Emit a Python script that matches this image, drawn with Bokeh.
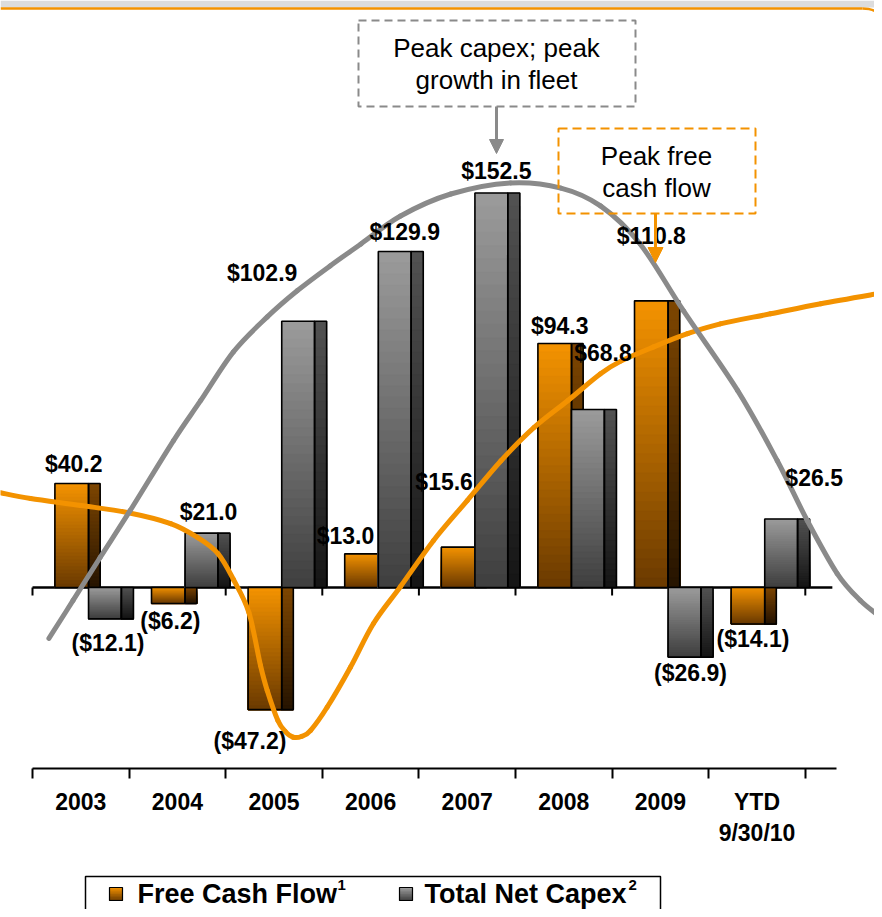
import numpy as np
from bokeh.plotting import figure
from bokeh.models import (Range1d, LinearAxis, FixedTicker, ColumnDataSource,
                          Arrow, NormalHead)
from bokeh.core.properties import value
from bokeh.embed import file_html
from bokeh.resources import INLINE

# ---------------- data ----------------
categories = ["2003", "2004", "2005", "2006", "2007", "2008", "2009", "YTD\n9/30/10"]
free_cash_flow = [40.2, -6.2, -47.2, 13.0, 15.6, 94.3, 110.8, -14.1]
total_net_capex = [-12.1, 21.0, 102.9, 129.9, 152.5, 68.8, -26.9, 26.5]

# illustrative trend curves
# (x in category units from the left edge of 2003, y in $M)
capex_curve_x = [0.17, 0.42, 0.70, 1.01, 1.46, 1.74, 2.08, 2.43, 2.74, 3.08, 3.40, 3.81,
                 4.33, 4.95, 5.47, 5.88, 6.29, 6.74, 7.30, 7.71, 8.02, 8.33, 8.57, 8.80]
capex_curve_y = [-19.7, -5.0, 11.6, 29.7, 56.8, 72.2, 91.1, 104.6, 114.7, 124.3, 132.8, 143.6,
                 152.1, 156.4, 154.4, 147.5, 132.8, 106.9, 76.1, 49.0, 25.9, 5.4, -5.0, -12.0]
fcf_curve_x = [-0.33, -0.02, 0.50, 0.98, 1.43, 1.71, 1.92, 2.08, 2.24, 2.36, 2.43, 2.54, 2.62,
               2.70, 2.79, 2.88, 3.05, 3.29, 3.53, 3.81, 4.15, 4.50, 4.85, 5.19, 5.54, 5.88,
               6.09, 6.43, 6.78, 7.12, 7.64, 8.16, 8.80]
fcf_curve_y = [36.6, 34.4, 31.7, 29.0, 24.7, 19.3, 13.1, 3.1, -9.7, -30.1, -39.8, -51.4, -55.8,
               -57.9, -57.5, -55.2, -46.3, -30.9, -13.9, 0.4, 18.1, 33.6, 49.0, 61.8, 72.2, 82.6,
               87.5, 93.0, 98.1, 101.9, 105.8, 109.7, 113.9]

series_names = ["Free Cash Flow", "Total Net Capex"]
series_notes = ["1", "2"]
annotation_capex = ["Peak capex; peak", "growth in fleet"]
annotation_fcf = ["Peak free", "cash flow"]

# ------------- layout helpers (reference pixel -> data) --------------
X0, CW, Y0, PPU = 32.0, 96.6, 587.0, 2.587
W, H = 874, 909


def ux(px):
    return (px - X0) / CW


def uy(py):
    return (Y0 - py) / PPU


def upx(d):
    return d / PPU


ORANGE = "#F39200"
GRAY_LINE = "#8A8A8A"
FONT = "Liberation Sans"

# label pixel offsets (dx, dy) from the end of each bar
fcf_label_off = [(2, -20), (2, 17), (-15, 31), (-16, -18), (-14, -65), (5, -18), (0, -65), (5, 15)]
capex_label_off = [(3, 24), (7, -21), (-36, -48), (10, -19), (5, -22), (15, -57), (6, 16), (33, -41)]

p = figure(width=W, height=H, x_range=Range1d(ux(0), ux(W)),
           y_range=Range1d(uy(H), uy(0)), x_axis_type=None, y_axis_type=None,
           output_backend="svg", toolbar_location=None, title=None,
           min_border=0, min_border_left=0, min_border_right=0,
           min_border_top=0, min_border_bottom=0)
p.outline_line_color = None
p.background_fill_color = "white"
p.border_fill_color = "white"


def hex2rgb(h):
    return tuple(int(h[i:i + 2], 16) for i in (1, 3, 5))


def mix(c1, c2, t):
    a, b = hex2rgb(c1), hex2rgb(c2)
    return "#%02x%02x%02x" % tuple(round(a[j] + (b[j] - a[j]) * t) for j in range(3))


NB = 30


def gradient_bars(values, x_from, x_to, top_color, bottom_color):
    L, R, T, B, C = [], [], [], [], []
    for i, v in enumerate(values):
        hi, lo = max(v, 0.0), min(v, 0.0)
        for k in range(NB):
            L.append(i + x_from)
            R.append(i + x_to)
            T.append(hi - (hi - lo) * k / NB)
            B.append(lo)
            C.append(mix(top_color, bottom_color, (k + 0.5) / NB))
    return ColumnDataSource(dict(left=L, right=R, top=T, bottom=B, color=C))


def outline_src(values, x_from, x_to):
    n = len(values)
    return ColumnDataSource(dict(left=[i + x_from for i in range(n)],
                                 right=[i + x_to for i in range(n)],
                                 top=[max(v, 0.0) for v in values],
                                 bottom=[min(v, 0.0) for v in values]))


def smooth_segments(xs, ys):
    """Cubic Bezier pieces through the read points (Catmull-Rom tangents)."""
    P = list(zip(xs, ys))
    d = dict(x0=[], y0=[], x1=[], y1=[], cx0=[], cy0=[], cx1=[], cy1=[])
    for i in range(len(P) - 1):
        p0 = P[max(i - 1, 0)]
        p1 = P[i]
        p2 = P[i + 1]
        p3 = P[min(i + 2, len(P) - 1)]
        d["x0"].append(p1[0]); d["y0"].append(p1[1])
        d["x1"].append(p2[0]); d["y1"].append(p2[1])
        d["cx0"].append(p1[0] + (p2[0] - p0[0]) / 6.0)
        d["cy0"].append(p1[1] + (p2[1] - p0[1]) / 6.0)
        d["cx1"].append(p2[0] - (p3[0] - p1[0]) / 6.0)
        d["cy1"].append(p2[1] - (p3[1] - p1[1]) / 6.0)
    return ColumnDataSource(d)


n = len(categories)

# slide header: grey band + orange rule with rounded corner
p.quad(left=[ux(0)], right=[ux(W)], top=[uy(0)], bottom=[uy(7)], fill_color="#DCDCDC",
       line_color=None)
p.segment(x0=[ux(0)], y0=[uy(8)], x1=[ux(862)], y1=[uy(8)], line_color=ORANGE, line_width=2.5)
p.quadratic(x0=[ux(862)], y0=[uy(8)], x1=[ux(882)], y1=[uy(22)], cx=[ux(880)], cy=[uy(8)],
            line_color=ORANGE, line_width=2.5)

# zero line with boundary ticks
p.segment(x0=[0], y0=[0], x1=[n + 0.28], y1=[0], line_color="black", line_width=2.5)
p.segment(x0=list(range(n + 1)), y0=[0] * (n + 1), x1=list(range(n + 1)),
          y1=[-upx(8)] * (n + 1), line_color="black", line_width=2)

OF = (0.232, 0.58)
OS = (0.58, 0.70)
GF = (0.58, 0.92)
GS = (0.92, 1.045)

p.quad(left="left", right="right", top="top", bottom="bottom", fill_color="color",
       line_color="color", line_width=0.5,
       source=gradient_bars(free_cash_flow, OF[0], OF[1], "#F59300", "#6A3A00"))
p.quad(left="left", right="right", top="top", bottom="bottom", fill_color="color",
       line_color="color", line_width=0.5,
       source=gradient_bars(free_cash_flow, OS[0], OS[1], "#7E4600", "#261400"))
for a, b in (OF, OS):
    p.quad(left="left", right="right", top="top", bottom="bottom", fill_color=None,
           line_color="black", line_width=1.6, source=outline_src(free_cash_flow, a, b))

p.quad(left="left", right="right", top="top", bottom="bottom", fill_color="color",
       line_color="color", line_width=0.5,
       source=gradient_bars(total_net_capex, GF[0], GF[1], "#9C9C9C", "#3E3E3E"))
p.quad(left="left", right="right", top="top", bottom="bottom", fill_color="color",
       line_color="color", line_width=0.5,
       source=gradient_bars(total_net_capex, GS[0], GS[1], "#525252", "#151515"))
for a, b in (GF, GS):
    p.quad(left="left", right="right", top="top", bottom="bottom", fill_color=None,
           line_color="black", line_width=1.6, source=outline_src(total_net_capex, a, b))

# trend curves
p.bezier(x0="x0", y0="y0", x1="x1", y1="y1", cx0="cx0", cy0="cy0", cx1="cx1", cy1="cy1",
         source=smooth_segments(fcf_curve_x, fcf_curve_y), line_color=ORANGE, line_width=5,
         line_cap="round")
p.bezier(x0="x0", y0="y0", x1="x1", y1="y1", cx0="cx0", cy0="cy0", cx1="cx1", cy1="cy1",
         source=smooth_segments(capex_curve_x, capex_curve_y), line_color=GRAY_LINE,
         line_width=5, line_cap="round")


# value labels
def fmt(v):
    return "${:.1f}".format(v) if v >= 0 else "(${:.1f})".format(-v)


lx, ly, lt, lox, loy = [], [], [], [], []
for vals, front, offs in ((free_cash_flow, OF, fcf_label_off),
                          (total_net_capex, GF, capex_label_off)):
    for i, v in enumerate(vals):
        lx.append(i + (front[0] + front[1]) / 2)
        ly.append(v)
        lt.append(fmt(v))
        lox.append(offs[i][0])
        loy.append(offs[i][1])
p.text(x="x", y="y", text="text", x_offset="dx", y_offset="dy",
       source=ColumnDataSource(dict(x=lx, y=ly, text=lt, dx=lox, dy=loy)),
       text_font=value(FONT), text_font_style="bold", text_font_size="23px",
       text_align="center", text_baseline="middle", text_color="black")

# annotation boxes
p.quad(left=[ux(358)], right=[ux(635)], top=[uy(20)], bottom=[uy(106)], fill_color=None,
       line_color=GRAY_LINE, line_width=2, line_dash="8 5")
p.text(x=[ux(496)] * 2, y=[uy(47), uy(79)], text=annotation_capex, text_font=value(FONT),
       text_font_size="26px", text_align="center", text_baseline="middle", text_color="black")
p.add_layout(Arrow(end=NormalHead(size=14, fill_color=GRAY_LINE, line_color=GRAY_LINE),
                   x_start=ux(496), y_start=uy(106), x_end=ux(496), y_end=uy(153),
                   line_color=GRAY_LINE, line_width=3))

p.quad(left=[ux(558)], right=[ux(755)], top=[uy(128)], bottom=[uy(213)], fill_color=None,
       line_color=ORANGE, line_width=2, line_dash="9 5")
p.text(x=[ux(656)] * 2, y=[uy(155), uy(187)], text=annotation_fcf, text_font=value(FONT),
       text_font_size="26px", text_align="center", text_baseline="middle", text_color="black")
p.add_layout(Arrow(end=NormalHead(size=15, fill_color=ORANGE, line_color=ORANGE),
                   x_start=ux(655), y_start=uy(213), x_end=ux(655), y_end=uy(262),
                   line_color=ORANGE, line_width=3))

# category axis
xaxis = LinearAxis(fixed_location=uy(768),
                   ticker=FixedTicker(ticks=[i + 0.5 for i in range(n)],
                                      minor_ticks=list(range(n + 1))),
                   major_label_overrides={i + 0.5: c for i, c in enumerate(categories)},
                   bounds=(0, n + 0.32))
xaxis.axis_line_color = "black"
xaxis.axis_line_width = 2
xaxis.major_tick_line_color = None
xaxis.minor_tick_line_color = "black"
xaxis.minor_tick_line_width = 2
xaxis.minor_tick_in = 0
xaxis.minor_tick_out = 10
xaxis.major_label_standoff = 10
xaxis.major_label_text_font = FONT
xaxis.major_label_text_font_style = "bold"
xaxis.major_label_text_font_size = "23px"
xaxis.major_label_text_color = "black"
p.add_layout(xaxis, "below")

# legend (box, swatches, labels with footnote marks)
p.quad(left=[ux(85)], right=[ux(660)], top=[uy(876)], bottom=[uy(935)], fill_color="white",
       line_color="black", line_width=1.5)
sw_x = [109, 399]
sw_cols = [("#F59300", "#6A3A00"), ("#A0A0A0", "#3E3E3E")]
NS = 8
for sx, (c_top, c_bot) in zip(sw_x, sw_cols):
    p.quad(left=[ux(sx)] * NS, right=[ux(sx + 13)] * NS,
           top=[uy(887 + 13 * k / NS) for k in range(NS)], bottom=[uy(900)] * NS,
           fill_color=[mix(c_top, c_bot, (k + 0.5) / NS) for k in range(NS)],
           line_color=None)
    p.quad(left=[ux(sx)], right=[ux(sx + 13)], top=[uy(887)], bottom=[uy(900)],
           fill_color=None, line_color="black", line_width=1.2)
p.text(x=[ux(137), ux(424)], y=[uy(893)] * 2, text=series_names, text_font=value(FONT),
       text_font_style="bold", text_font_size="27px", text_align="left",
       text_baseline="middle", text_color="black")
p.text(x=[ux(337), ux(628)], y=[uy(884)] * 2, text=series_notes, text_font=value(FONT),
       text_font_style="bold", text_font_size="15px", text_align="left",
       text_baseline="middle", text_color="black")

open("out.html", "w").write(file_html(p, INLINE))
